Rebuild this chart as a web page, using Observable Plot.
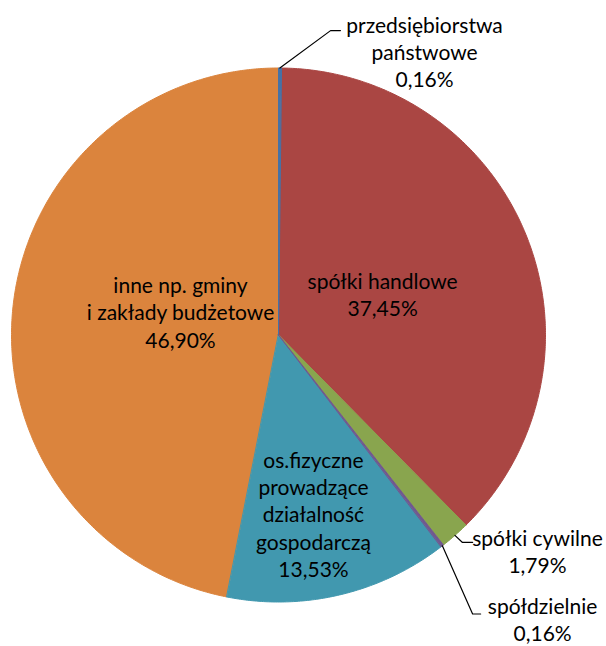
<!DOCTYPE html>
<html>
<head>
<meta charset="utf-8">
<script src="https://cdn.jsdelivr.net/npm/d3@7"></script>
<script src="https://cdn.jsdelivr.net/npm/@observablehq/plot@0.6"></script>
<style>
  html, body { margin: 0; padding: 0; background: #fff; }
  #chart svg { display: block; }
</style>
</head>
<body>
<div id="chart"></div>
<script>
// ---- data ----
const categories = [
  "przedsiębiorstwa państwowe",
  "spółki handlowe",
  "spółki cywilne",
  "spółdzielnie",
  "os.fizyczne prowadzące działalność gospodarczą",
  "inne np. gminy i zakłady budżetowe"
];
const shares = [0.16, 37.45, 1.79, 0.16, 13.53, 46.90];
const percentLabels = ["0,16%", "37,45%", "1,79%", "0,16%", "13,53%", "46,90%"];
const labelLines = [
  ["przedsiębiorstwa", "państwowe"],
  ["spółki handlowe"],
  ["spółki cywilne"],
  ["spółdzielnie"],
  ["os.fizyczne", "prowadzące", "działalność", "gospodarczą"],
  ["inne np. gminy", "i zakłady budżetowe"]
];
const colors = ["#4572A7", "#AA4643", "#89A54E", "#71588F", "#4198AF", "#DB843D"];

// ---- layout (unit circle coordinates: center 0,0, radius 1) ----
const labelCenters = [[0.547, 1.062], [0.390, 0.155], [0.970, -0.807], [0.989, -1.064], [0.131, -0.669], [-0.367, 0.088]];
const leaderElbows = [[[0.195, 1.140], [0.232, 1.140]], null, [[0.689, -0.777], [0.727, -0.777]], [[0.727, -1.045], [0.757, -1.045]], null, null];

const W = 606, H = 646, cx = 278, cy = 334.5, R = 267;

const arcs = d3.pie().sort(null).value(d => d)(shares);

// polygons for slices (largest drawn first so thin slices stay visible)
const drawOrder = d3.range(shares.length).sort((a, b) => shares[b] - shares[a]);
const pts = [];
for (const i of drawOrder) {
  const a = arcs[i];
  pts.push({cat: categories[i], x: 0, y: 0});
  const n = Math.max(2, Math.ceil((a.endAngle - a.startAngle) / (Math.PI / 360)));
  for (let k = 0; k <= n; k++) {
    const t = a.startAngle + (a.endAngle - a.startAngle) * k / n;
    pts.push({cat: categories[i], x: Math.sin(t), y: Math.cos(t)});
  }
}

// leader lines
const leaders = [];
leaderElbows.forEach((el, i) => {
  if (!el) return;
  const m = (arcs[i].startAngle + arcs[i].endAngle) / 2;
  leaders.push({id: i, x: Math.sin(m), y: Math.cos(m)});
  el.forEach(p => leaders.push({id: i, x: p[0], y: p[1]}));
});

// labels
const labels = categories.map((c, i) => ({
  x: labelCenters[i][0],
  y: labelCenters[i][1],
  text: [...labelLines[i], percentLabels[i]].join("\n")
}));

const chart = Plot.plot({
  width: W,
  height: H,
  margin: 0,
  x: {domain: [-cx / R, (W - cx) / R], range: [0, W], axis: null},
  y: {domain: [-(H - cy) / R, cy / R], range: [H, 0], axis: null},
  color: {domain: categories, range: colors},
  style: {background: "#fff"},
  marks: [
    Plot.line(pts, {x: "x", y: "y", z: "cat", fill: "cat", stroke: "cat", strokeWidth: 1, curve: "linear-closed"}),
    Plot.line(leaders, {x: "x", y: "y", z: "id", stroke: "#000", strokeWidth: 1.2}),
    Plot.text(labels, {x: "x", y: "y", text: "text", fill: "#000", fontSize: 21, fontFamily: "Lato", lineHeight: 1.3, lineAnchor: "middle", textAnchor: "middle"})
  ]
});
document.getElementById("chart").append(chart);
</script>
</body>
</html>
